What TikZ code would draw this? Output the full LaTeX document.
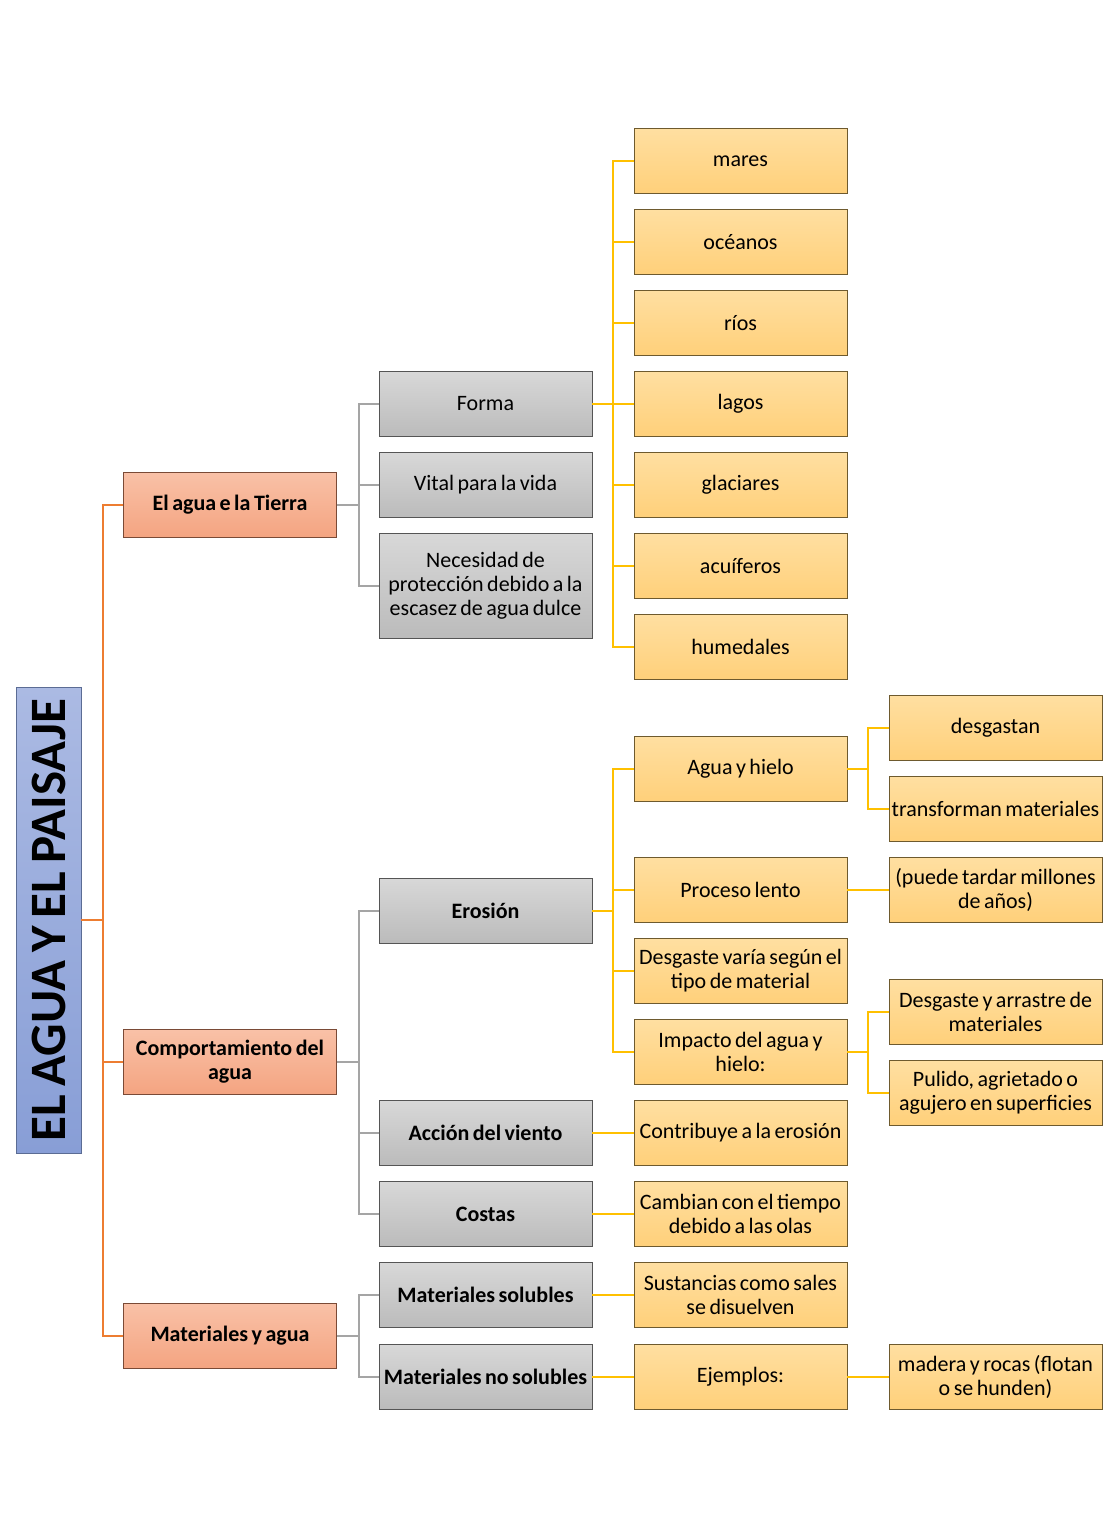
\documentclass[tikz,border=0pt]{standalone}
\usepackage{fontspec}
\setmainfont{Carlito}[WordSpace=0.7]

\definecolor{bluetop}{HTML}{ABBAE3}
\definecolor{bluebot}{HTML}{889ED6}
\definecolor{rootedge}{HTML}{5B6C94}
\definecolor{salmontop}{HTML}{F9C1A7}
\definecolor{salmonbot}{HTML}{F4A481}
\definecolor{mainedge}{HTML}{7A4A36}
\definecolor{greytop}{HTML}{D8D8D8}
\definecolor{greybot}{HTML}{BBBBBB}
\definecolor{subedge}{HTML}{555555}
\definecolor{yellowtop}{HTML}{FFDFA1}
\definecolor{yellowbot}{HTML}{FFD07A}
\definecolor{leafedge}{HTML}{6E5A2E}
\definecolor{orangeline}{HTML}{ED7D31}
\definecolor{greyline}{HTML}{A5A5A5}
\definecolor{yellowline}{HTML}{FFC000}

\begin{document}
\begin{tikzpicture}[x=0.5pt,y=-0.5pt,
		rootblock/.style={shape=rectangle,draw=rootedge,thin,top color=bluetop,bottom color=bluebot,
			minimum width=32.5pt,minimum height=233pt,inner sep=0pt,font=\fontsize{25.5}{26}\selectfont\bfseries},
		mainblock/.style={shape=rectangle,draw=mainedge,thin,top color=salmontop,bottom color=salmonbot,
			minimum width=106.5pt,minimum height=32.5pt,inner sep=0.5pt,align=center,
			font=\fontsize{11}{12}\selectfont\bfseries},
		subblock/.style={shape=rectangle,draw=subedge,thin,top color=greytop,bottom color=greybot,
			minimum width=106.5pt,minimum height=32.5pt,inner sep=0.5pt,align=center,
			font=\fontsize{11}{12}\selectfont},
		leafblock/.style={shape=rectangle,draw=leafedge,thin,top color=yellowtop,bottom color=yellowbot,
			minimum width=106.5pt,minimum height=32.5pt,inner sep=0.5pt,align=center,
			font=\fontsize{11}{12}\selectfont},
		boldsub/.style={subblock,font=\fontsize{11}{12}\selectfont\bfseries},
		mainline/.style={draw=orangeline,line width=1pt},
		subline/.style={draw=greyline,line width=1pt},
		leafline/.style={draw=yellowline,line width=1pt}]
	\useasboundingbox (0,0) rectangle (1115,1538);

	\node[rootblock] (root) at (48.5,920) {\rotatebox{90}{EL AGUA Y EL PAISAJE}};

	\node[mainblock] (agua) at (230,505)  {El agua e la Tierra};
	\node[mainblock] (comp) at (230,1062) {Comportamiento del\\agua};
	\node[mainblock] (mat)  at (230,1336) {Materiales y agua};
	\foreach \n in {agua,comp,mat}
		\draw[mainline] (root.east) -- ++(22,0) |- (\n.west);

	\node[subblock] (forma) at (485.5,404) {Forma};
	\node[subblock] (vital) at (485.5,485) {Vital para la vida};
	\node[subblock,minimum height=52.5pt] (neces) at (485.5,585.5) {Necesidad de\\protección debido a la\\escasez de agua dulce};
	\foreach \n in {forma,vital,neces}
		\draw[subline] (agua.east) -- ++(22,0) |- (\n.west);

	\node[boldsub] (eros)   at (485.5,910.5) {Erosión};
	\node[boldsub] (viento) at (485.5,1133)  {Acción del viento};
	\node[boldsub] (costas) at (485.5,1214)  {Costas};
	\foreach \n in {eros,viento,costas}
		\draw[subline] (comp.east) -- ++(22,0) |- (\n.west);

	\node[boldsub] (solub)   at (485.5,1295)   {Materiales solubles};
	\node[boldsub] (nosolub) at (485.5,1376.5) {Materiales no solubles};
	\foreach \n in {solub,nosolub}
		\draw[subline] (mat.east) -- ++(22,0) |- (\n.west);

	% cuerpos de agua
	\node[leafblock] (mares)     at (740.5,161) {mares};
	\node[leafblock] (oceanos)   at (740.5,242) {océanos};
	\node[leafblock] (rios)      at (740.5,323) {ríos};
	\node[leafblock] (lagos)     at (740.5,404) {lagos};
	\node[leafblock] (glaciares) at (740.5,485) {glaciares};
	\node[leafblock] (acuif)     at (740.5,566) {acuíferos};
	\node[leafblock] (humed)     at (740.5,647) {humedales};
	\foreach \n in {mares,oceanos,rios,lagos,glaciares,acuif,humed}
		\draw[leafline] (forma.east) -- ++(21,0) |- (\n.west);

	% erosion
	\node[leafblock] (hielo)   at (740.5,769)  {Agua y hielo};
	\node[leafblock] (lento)   at (740.5,890)  {Proceso lento};
	\node[leafblock] (varia)   at (740.5,971)  {Desgaste varía según el\\tipo de material};
	\node[leafblock] (impacto) at (740.5,1052) {Impacto del agua y\\hielo:};
	\foreach \n in {hielo,lento,varia,impacto}
		\draw[leafline] (eros.east) -- ++(21,0) |- (\n.west);

	\node[leafblock] (contrib) at (740.5,1133)   {Contribuye a la erosión};
	\node[leafblock] (cambian) at (740.5,1214)   {Cambian con el tiempo\\debido a las olas};
	\node[leafblock] (sustan)  at (740.5,1295)   {Sustancias como sales\\se disuelven};
	\node[leafblock] (ejemp)   at (740.5,1376.5) {Ejemplos:};
	\draw[leafline] (viento.east) -- (contrib.west);
	\draw[leafline] (costas.east) -- (cambian.west);
	\draw[leafline] (solub.east) -- (sustan.west);
	\draw[leafline] (nosolub.east) -- (ejemp.west);

	\node[leafblock] (desgastan) at (995.5,728)  {desgastan};
	\node[leafblock] (transf)    at (995.5,809)  {transforman materiales};
	\foreach \n in {desgastan,transf}
		\draw[leafline] (hielo.east) -- ++(21,0) |- (\n.west);
	\node[leafblock] (tardar)    at (995.5,890)  {(puede tardar millones\\de años)};
	\draw[leafline] (lento.east) -- (tardar.west);
	\node[leafblock] (arrastre)  at (995.5,1012) {Desgaste y arrastre de\\materiales};
	\node[leafblock] (pulido)    at (995.5,1093) {Pulido, agrietado o\\agujero en superficies};
	\foreach \n in {arrastre,pulido}
		\draw[leafline] (impacto.east) -- ++(21,0) |- (\n.west);
	\node[leafblock] (madera)    at (995.5,1376.5) {madera y rocas (flotan\\o se hunden)};
	\draw[leafline] (ejemp.east) -- (madera.west);
\end{tikzpicture}
\end{document}
